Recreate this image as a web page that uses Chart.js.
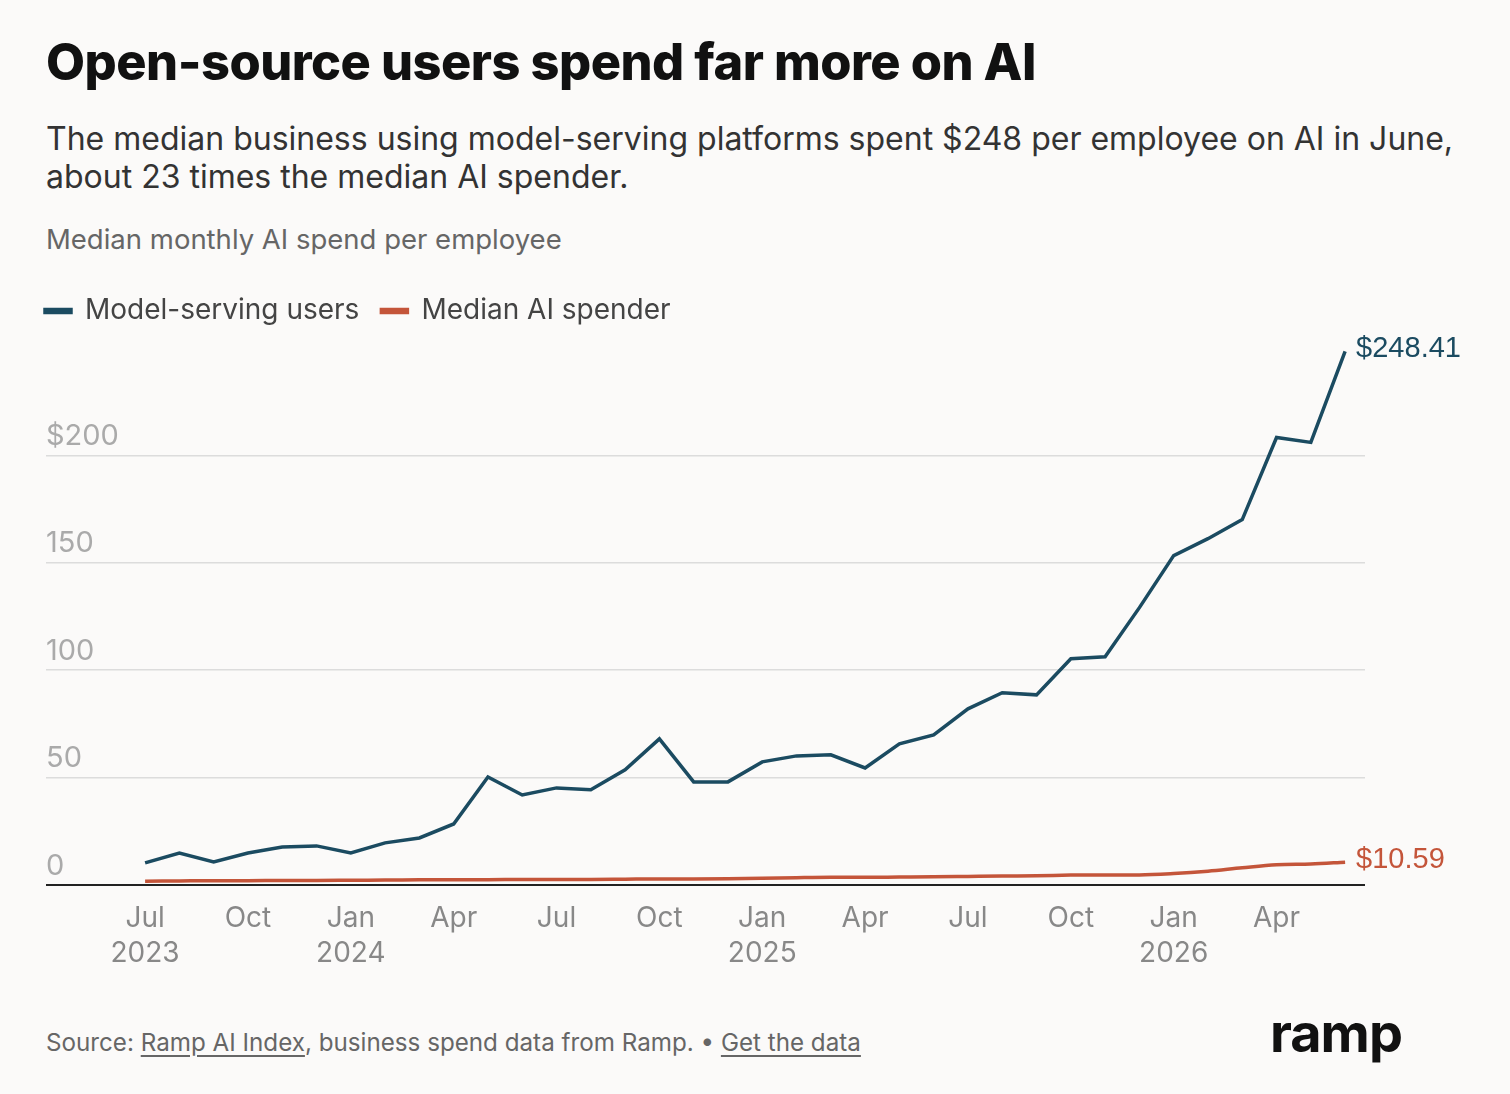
<!DOCTYPE html>
<html>
<head>
<meta charset="utf-8">
<script src="https://cdn.jsdelivr.net/npm/chart.js@4.4.1/dist/chart.umd.min.js"></script>
<style>
  html, body { margin: 0; padding: 0; background: #fbfaf9; }
  body { width: 1510px; height: 1094px; position: relative; overflow: hidden; font-family: Inter, sans-serif; }
  .title { position: absolute; left: 46px; top: 31px; font-weight: 800; font-size: 50.5px; color: #111; letter-spacing: -0.5px; margin: 0; white-space: nowrap; }
  .sub { position: absolute; left: 46px; top: 120px; font-size: 32px; line-height: 38px; color: #333; white-space: nowrap; }
  .axisnote { position: absolute; left: 46px; top: 222px; font-size: 27.5px; color: #666; }
  .foot { position: absolute; left: 46px; top: 1028px; font-size: 24.2px; color: #666; }
  .foot u { text-underline-offset: 4px; }
  .logo { position: absolute; left: 1270px; top: 1000px; font-size: 54px; font-weight: 700; color: #111; letter-spacing: -1px; }
  #wrap { position: absolute; left: 0; top: 275px; width: 1510px; height: 725px; }
</style>
</head>
<body>
<h1 class="title">Open-source users spend far more on AI</h1>
<div class="sub">The median business using model-serving platforms spent $248 per employee on AI in June,<br>about 23 times the median AI spender.</div>
<div class="axisnote">Median monthly AI spend per employee</div>
<div id="wrap"><canvas id="chart"></canvas></div>
<div class="foot">Source: <u>Ramp AI Index</u>, business spend data from Ramp. &#8226; <u>Get the data</u></div>
<div class="logo">ramp</div>
<script>
// months from Jul 2023 to Jun 2026
var months = ["Jul 2023", "Aug 2023", "Sep 2023", "Oct 2023", "Nov 2023", "Dec 2023",
  "Jan 2024", "Feb 2024", "Mar 2024", "Apr 2024", "May 2024", "Jun 2024",
  "Jul 2024", "Aug 2024", "Sep 2024", "Oct 2024", "Nov 2024", "Dec 2024",
  "Jan 2025", "Feb 2025", "Mar 2025", "Apr 2025", "May 2025", "Jun 2025",
  "Jul 2025", "Aug 2025", "Sep 2025", "Oct 2025", "Nov 2025", "Dec 2025",
  "Jan 2026", "Feb 2026", "Mar 2026", "Apr 2026", "May 2026", "Jun 2026"];

var modelServing = [10.3, 14.9, 10.7, 14.9, 17.7, 18.2,
  14.9, 19.6, 21.9, 28.4, 50.3, 41.9,
  45.2, 44.3, 53.6, 68.0, 48.0, 48.0,
  57.3, 60.1, 60.6, 54.5, 65.7, 69.9,
  82.0, 89.5, 88.5, 105.3, 106.2, 129.1,
  153.3, 161.2, 170.1, 208.3, 206.0, 248.41];

var medianSpender = [1.8, 1.9, 2.0, 2.0, 2.1, 2.1,
  2.2, 2.3, 2.4, 2.5, 2.5, 2.6,
  2.6, 2.6, 2.7, 2.8, 2.8, 2.9,
  3.1, 3.4, 3.6, 3.6, 3.7, 3.8,
  4.0, 4.2, 4.3, 4.6, 4.7, 4.7,
  5.3, 6.4, 8.0, 9.4, 9.8, 10.59];

var tickMonths = [0, 3, 6, 9, 12, 15, 18, 21, 24, 27, 30, 33];
var yTicks = [0, 50, 100, 150, 200];

var blue = "#1b4b61";
var red = "#c4553a";

function points(arr) {
  return arr.map(function (v, i) { return { x: i, y: v }; });
}

var endLabels = {
  id: "endLabels",
  afterDatasetsDraw: function (chart) {
    var ctx = chart.ctx;
    ctx.save();
    ctx.font = "29px 'Liberation Sans', Arial, sans-serif";
    ctx.textBaseline = "middle";
    ctx.textAlign = "left";
    chart.data.datasets.forEach(function (ds, i) {
      var meta = chart.getDatasetMeta(i);
      var last = meta.data[meta.data.length - 1];
      var v = ds.data[ds.data.length - 1].y;
      ctx.fillStyle = ds.borderColor;
      ctx.fillText("$" + v.toFixed(2), last.x + 11, last.y - 2);
    });
    ctx.restore();
  }
};

var ctx = document.getElementById("chart").getContext("2d");
var myChart = new Chart(ctx, {
  type: "line",
  data: {
    datasets: [
      {
        label: "Model-serving users",
        data: points(modelServing),
        borderColor: blue,
        backgroundColor: blue,
        borderWidth: 3.5,
        pointRadius: 0,
        tension: 0,
      },
      {
        label: "Median AI spender",
        data: points(medianSpender),
        borderColor: red,
        backgroundColor: red,
        borderWidth: 3.5,
        pointRadius: 0,
        cubicInterpolationMode: "monotone",
      },
    ],
  },
  options: {
    responsive: true,
    maintainAspectRatio: false,
    animation: false,
    layout: { padding: { left: 23, right: 145, top: 0, bottom: 13 } },
    plugins: {
      legend: {
        display: true,
        position: "top",
        align: "start",
        labels: {
          boxWidth: 26,
          boxHeight: 3,
          padding: 22,
          color: "#444",
          font: { family: "Inter, sans-serif", size: 28 },
        },
      },
      tooltip: { enabled: false },
    },
    scales: {
      x: {
        type: "linear",
        min: -2.89,
        max: 35.58,
        grid: { display: false, drawTicks: false },
        border: { display: false },
        afterBuildTicks: function (axis) {
          axis.ticks = tickMonths.map(function (v) { return { value: v }; });
        },
        ticks: {
          padding: 16,
          color: "#888",
          font: { family: "Inter, sans-serif", size: 28, lineHeight: 1.25 },
          maxRotation: 0,
          autoSkip: false,
          callback: function (value) {
            var parts = months[value].split(" ");
            if (value === 0 || parts[0] === "Jan") return [parts[0], parts[1]];
            return parts[0];
          },
        },
      },
      y: {
        min: 0,
        max: 256,
        afterFit: function (axis) { axis.width = 23; },
        afterBuildTicks: function (axis) {
          axis.ticks = yTicks.map(function (v) { return { value: v }; });
        },
        grid: {
          drawTicks: false,
          color: function (c) { return c.tick.value === 0 ? "#222" : "#dcdcdc"; },
          lineWidth: function (c) { return c.tick.value === 0 ? 2 : 1.5; },
        },
        border: { display: false },
        ticks: {
          mirror: true,
          padding: 0,
          labelOffset: -19,
          color: "#aaa",
          font: { family: "Inter, sans-serif", size: 29 },
          callback: function (value) { return value === 200 ? "$200" : value; },
        },
      },
    },
  },
  plugins: [endLabels],
});
</script>
</body>
</html>
